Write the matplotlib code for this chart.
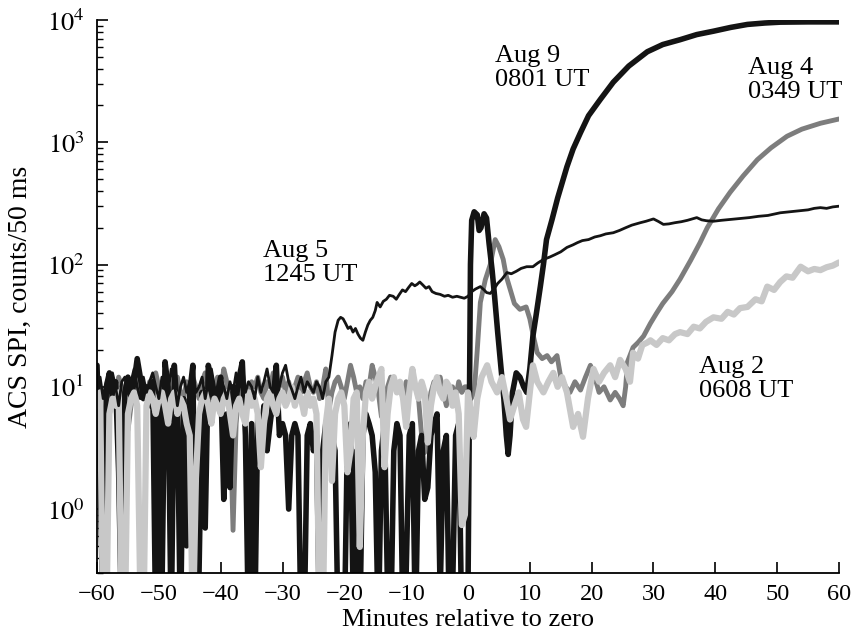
import matplotlib
matplotlib.use("Agg")
import matplotlib.pyplot as plt
from matplotlib.ticker import FuncFormatter, LogLocator, MultipleLocator, NullFormatter, NullLocator
import numpy as np

plt.rcParams["font.family"] = ["Liberation Serif", "DejaVu Serif"]
plt.rcParams["mathtext.fontset"] = "stix"

# background stretch of every record is read every 0.5 min starting at -60 min
T0 = -60.0
STEP = 0.5

# Aug 9, 0801 UT  (thick black)
aug9_noise = [
    15, 2, 0.1, 10, 13, 8, 11, 2, 0.1, 9,
    12, 8, 11, 17, 12, 8, 10, 7, 11, 0.1,
    8, 0.2, 16, 10, 0.1, 15, 6, 0.1, 8, 0.5,
    9, 15, 0.1, 0.3, 9, 0.7, 15, 11, 7, 9,
    12, 1.2, 6, 1.5, 10, 8, 12, 16, 4, 0.1,
    5, 0.1, 6, 4, 7, 3, 5, 8, 15, 4,
    5, 4, 1.0, 4, 5, 4, 0.1, 0.1, 4, 5,
    3, 4, 0.1, 3, 5, 6, 4, 3, 0.1, 0.2,
    0.1, 4, 5, 0.1, 3, 0.1, 4, 6, 5, 4,
    2, 0.1, 3, 5, 0.2, 0.1, 3, 5, 4, 0.1,
    0.3, 4, 5, 0.1, 3, 4, 1.2, 1.5, 4, 5,
    6, 0.2, 3, 4, 0.1, 0.2, 4, 5, 0.1, 0.1,
]
aug9_tail = [
    (0.0, 0.2), (0.2, 5), (0.4, 100), (0.6, 230), (1.0, 270), (1.5, 255),
    (1.8, 190), (2.1, 200), (2.6, 260), (3.0, 240), (3.4, 150), (3.9, 90),
    (4.3, 55), (4.8, 28), (5.3, 15), (5.8, 8), (6.2, 4), (6.5, 2.8),
    (6.8, 4), (7.2, 9), (7.8, 13), (8.4, 12), (9.0, 10), (9.5, 9),
    (10.0, 14), (10.5, 26), (11.0, 38), (11.7, 66), (12.2, 100), (12.7, 160),
    (13.6, 234), (14.5, 350), (15.3, 480), (16.0, 630), (17.0, 880),
    (18.2, 1200), (19.5, 1650), (21.4, 2240), (23.5, 3100), (26.0, 4200),
    (29.0, 5500), (31.5, 6300), (34.3, 6900), (37.0, 7600), (39.7, 8100),
    (42.5, 8700), (45.2, 9200), (48.0, 9450), (50.5, 9600), (55.0, 9650),
    (60.0, 9650),
]

# Aug 4, 0349 UT  (mid grey)
aug4_noise = [
    12, 9, 5, 3.5, 8, 11, 9, 12, 10, 8,
    4.4, 7, 11, 9, 12, 10, 8, 11, 9, 13,
    10, 8, 11, 9, 7, 10, 12, 9, 8, 11,
    9, 12, 10, 8, 11, 13, 9, 7, 10, 12,
    9, 14, 11, 6, 0.67, 5, 10, 13, 9, 8,
    11, 10, 12, 9, 8, 11, 10, 13, 9, 10,
    12, 9, 11, 8, 10, 12, 9, 11, 13, 10,
    9, 11, 8, 10, 14, 6.5, 9, 11, 12, 10,
    8, 11, 15, 12, 9, 10, 8, 11, 10, 15,
    12, 9, 5.7, 8, 10, 12, 11, 9, 10, 8,
    11, 9, 12, 10, 8, 4, 2.9, 6, 9, 11,
    10, 12, 9, 7, 9, 10, 8, 11, 9, 10,
]
aug4_tail = [
    (0.0, 10), (0.5, 8), (1.0, 9), (1.5, 20), (2.0, 49), (2.8, 75),
    (3.6, 100), (4.4, 160), (5.0, 140), (5.7, 110), (6.2, 80), (6.8, 63),
    (7.5, 48), (8.4, 43), (9.4, 45), (10.0, 36), (10.5, 27), (11.2, 19),
    (12.0, 17), (12.8, 18), (13.5, 16), (14.4, 18), (15.0, 12), (15.8, 10),
    (16.5, 9), (17.3, 11), (18.2, 9.4), (19.0, 12), (19.8, 15), (20.5, 12),
    (21.2, 9), (22.0, 10), (23.0, 7.8), (23.8, 9), (24.5, 8), (25.1, 7),
    (25.5, 10), (25.8, 16), (26.7, 21), (27.5, 23), (28.4, 26), (29.5, 33),
    (30.5, 40), (31.5, 48), (33.0, 60), (34.3, 76), (36.0, 108), (37.5, 150),
    (38.7, 200), (40.5, 285), (42.4, 390), (44.5, 530), (46.8, 720),
    (49.0, 900), (51.6, 1120), (54.0, 1280), (57.0, 1430), (60.0, 1550),
]

# Aug 2, 0608 UT  (light grey)
aug2_noise = [
    7, 9, 0.1, 0.1, 6, 8, 7, 9, 0.1, 0.1,
    6, 8, 9, 7, 0.2, 0.1, 7, 9, 8, 6,
    8, 9, 7, 5, 8, 9, 6, 8, 7, 5,
    4, 0.1, 1.8, 6, 8, 9, 7, 5, 8, 7,
    6, 8, 9, 6, 4, 7, 8, 6, 5, 9,
    7, 8, 6, 2.2, 5, 8, 9, 7, 6, 8,
    9, 7, 8, 10, 7, 9, 8, 6, 9, 7,
    8, 6, 0.1, 0.1, 5, 8, 1.7, 6, 8, 9,
    7, 2, 3, 8, 9, 0.49, 4, 9, 11, 8,
    10, 12, 14, 2.2, 6, 10, 12, 9, 11, 8,
    4.7, 9, 14, 10, 8, 11, 9, 3.5, 7, 10,
    12, 9, 8, 11, 10, 7, 9, 6, 0.74, 0.9,
]
aug2_tail = [
    (0.0, 9), (0.5, 6), (0.9, 3.9), (1.5, 8), (2.2, 12), (3.1, 15),
    (3.8, 11), (4.7, 9), (5.5, 12), (6.2, 8), (6.8, 5.4), (7.5, 7),
    (8.2, 9), (8.9, 5.4), (9.4, 4.7), (10.0, 9), (10.5, 15), (11.2, 11),
    (12.2, 9), (13.0, 11), (13.8, 13), (14.5, 10), (15.2, 12), (16.0, 9),
    (17.0, 4.7), (17.8, 6), (18.6, 3.9), (19.4, 8), (20.3, 14), (21.2, 11),
    (22.0, 13), (23.0, 15), (23.8, 12), (24.6, 16.6), (25.5, 14), (26.2, 11),
    (26.7, 19), (27.5, 17), (28.2, 22), (29.0, 23), (29.5, 24), (30.5, 22),
    (31.5, 25), (32.5, 24), (33.5, 27), (34.3, 28), (35.5, 27), (36.5, 31),
    (37.5, 30), (38.5, 34), (39.7, 37), (41.0, 36), (42.0, 41), (43.0, 39),
    (44.0, 44), (45.2, 45), (46.5, 52), (47.5, 50), (48.4, 66), (49.5, 62),
    (50.5, 72), (51.5, 80), (52.5, 78), (53.8, 96), (55.0, 88), (56.0, 92),
    (57.0, 90), (58.0, 95), (59.0, 98), (60.0, 104),
]

# Aug 5, 1245 UT  (thin black)
aug5_noise = [
    10, 12, 8, 11, 9, 13, 10, 7, 11, 12,
    9, 11, 14, 10, 8, 12, 9, 11, 13, 10,
    8, 12, 10, 9, 14, 11, 7, 10, 12, 9,
    11, 13, 9, 10, 12, 8, 11, 14, 10, 9,
    12, 10, 8, 11, 9, 13, 10, 12, 9, 11,
    10, 8, 12, 9, 11, 14, 10, 9, 12, 10,
    13, 15, 11, 9.5, 8, 10, 12, 9, 11, 10,
]
aug5_tail = [
    (-25, 9), (-24.5, 11), (-24, 10), (-23.5, 8), (-23, 11), (-22.5, 12),
    (-22, 18), (-21.5, 28), (-21, 35), (-20.6, 37), (-20.2, 36), (-19.8, 33),
    (-19.4, 30), (-19, 31), (-18.6, 28), (-18.2, 30), (-17.8, 27), (-17.4, 25),
    (-17, 24), (-16.6, 28), (-16.2, 32), (-15.8, 35), (-15.4, 37), (-15, 42),
    (-14.7, 49), (-14.2, 45), (-13.7, 50), (-13.2, 52), (-12.7, 56), (-12.1, 55),
    (-11.6, 52), (-11.1, 57), (-10.6, 62), (-10.1, 60), (-9.6, 65), (-9.1, 70),
    (-8.6, 67), (-8.2, 69), (-7.8, 72), (-7.3, 68), (-6.8, 64), (-6.3, 66),
    (-5.8, 60), (-5.2, 58), (-4.5, 57), (-3.8, 55), (-3.2, 56), (-2.5, 54),
    (-1.8, 55), (-1.2, 54), (-0.6, 53), (0, 55), (0.6, 60), (1.2, 63),
    (2, 66), (2.6, 62), (3, 59), (3.6, 58), (4.2, 63), (4.8, 70),
    (5.5, 76), (6.3, 86), (7, 84), (7.8, 88), (8.6, 93), (9.5, 96),
    (10.5, 96), (11.3, 103), (12.2, 110), (13.2, 115), (14, 120), (15, 127),
    (16, 138), (17, 145), (17.7, 151), (18.5, 157), (19.5, 160), (20.5, 168),
    (21.4, 172), (22.3, 178), (23.5, 182), (24.5, 190), (25.5, 200), (26.5, 210),
    (27.9, 220), (28.8, 226), (29.5, 232), (30, 236), (30.8, 225), (31.6, 213),
    (32.5, 215), (33.5, 220), (34.5, 224), (35.5, 230), (36.5, 238), (37, 242),
    (37.8, 232), (38.6, 228), (39.7, 226), (41, 230), (42.5, 234), (44, 238),
    (45.5, 242), (47, 248), (48.5, 252), (50.5, 265), (52, 270), (53.5, 275),
    (55, 280), (56, 288), (57, 292), (58, 288), (59, 296), (60, 300),
]

labels = {
    "aug9": "Aug 9\n0801 UT",
    "aug4": "Aug 4\n0349 UT",
    "aug5": "Aug 5\n1245 UT",
    "aug2": "Aug 2\n0608 UT",
}


def series(noise, tail):
    t = T0 + STEP * np.arange(len(noise))
    tt, cc = zip(*tail)
    return np.concatenate([t, tt]), np.concatenate([noise, cc])


def main():
    fig = plt.figure(figsize=(8.54, 6.39), dpi=100)
    ax = fig.add_axes([0.1136, 0.1033, 0.8688, 0.8654])

    kw = dict(solid_joinstyle="round", solid_capstyle="round")
    ax.plot(*series(aug4_noise, aug4_tail), color="#7d7d7d", lw=3.5, **kw)
    ax.plot(*series(aug9_noise, aug9_tail), color="#141414", lw=4.0, **kw)
    ax.plot(*series(aug2_noise, aug2_tail), color="#c8c8c8", lw=4.5, **kw)
    ax.plot(*series(aug5_noise, aug5_tail), color="#141414", lw=2.0, **kw)

    ax.set_yscale("log")
    ax.set_xlim(-60, 60)
    ax.set_ylim(0.3, 1e4)

    for side in ("top", "right"):
        ax.spines[side].set_visible(False)
    for side in ("left", "bottom"):
        ax.spines[side].set_linewidth(1.3)

    ax.xaxis.set_major_locator(MultipleLocator(10))
    ax.xaxis.set_minor_locator(NullLocator())
    ax.yaxis.set_major_locator(LogLocator(base=10, numticks=10))
    ax.yaxis.set_minor_locator(LogLocator(base=10, subs=np.arange(2, 10), numticks=20))
    ax.yaxis.set_major_formatter(FuncFormatter(lambda v, p: r"$10^{%d}$" % round(np.log10(v))))
    ax.yaxis.set_minor_formatter(NullFormatter())

    ax.tick_params(which="major", direction="in", length=8, width=1.2)
    ax.tick_params(which="minor", direction="in", length=4.5, width=1.0)
    ax.tick_params(axis="x", labelsize=17.5, pad=8)
    ax.tick_params(axis="y", labelsize=19, pad=9)

    ax.set_xlabel("Minutes relative to zero", fontsize=19, labelpad=3)
    ax.set_ylabel("ACS SPI, counts/50 ms", fontsize=20, labelpad=10)

    txt = dict(fontsize=19, va="top", ha="left", linespacing=1.15)
    ax.text(4.4, 6300, labels["aug9"], **txt)
    ax.text(45.3, 5000, labels["aug4"], **txt)
    ax.text(-33.1, 160, labels["aug5"], **txt)
    ax.text(37.4, 18, labels["aug2"], **txt)

    fig.savefig("out.png", dpi=100)
    plt.close(fig)


if __name__ == "__main__":
    main()
